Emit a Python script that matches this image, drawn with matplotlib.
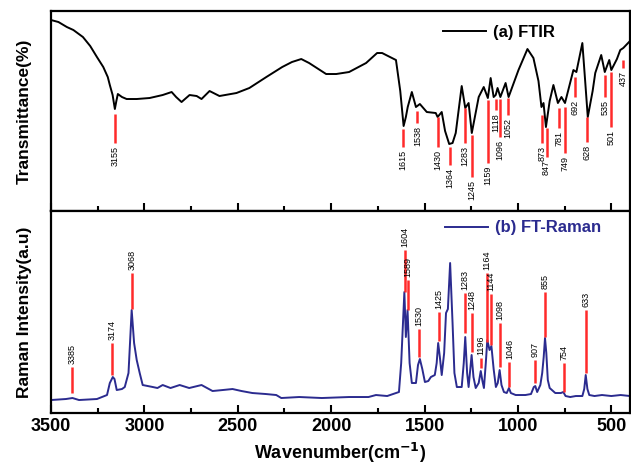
import numpy as np
import matplotlib
matplotlib.use("Agg")
import matplotlib.pyplot as plt
from matplotlib.lines import Line2D
from matplotlib.ticker import MultipleLocator

plt.rcParams['font.family'] = ['Liberation Sans', 'DejaVu Sans']

# FTIR trace (wavenumber, transmittance)
ftir_wn = [3500, 3460, 3415, 3380, 3329, 3290, 3254, 3220, 3196, 3185, 3170, 3158,
           3150, 3142, 3120, 3095, 3041, 2972,
           2902, 2854, 2830, 2801, 2758, 2720, 2694, 2651, 2598, 2507, 2438, 2347,
           2262, 2210, 2160, 2118, 2060, 2027, 1973, 1904, 1813, 1754, 1727, 1706,
           1653, 1630,
           1612, 1600, 1590, 1568, 1546, 1525, 1488, 1440, 1430, 1408, 1390, 1368, 1350,
           1333, 1301, 1282, 1264, 1247, 1210, 1183, 1161, 1146, 1130, 1119, 1109,
           1094, 1066, 1050, 997, 949, 917, 890, 874, 863, 850, 830, 810, 786,
           767, 748, 703, 687, 655, 640, 626, 600, 586, 554, 535, 511, 500, 470,
           452, 436, 400]
ftir_t = [95.5, 94.5, 92, 90.5, 87, 82.5, 77, 72, 67, 63, 58, 51,
          55, 58.5, 57, 56, 56, 56.5,
          58, 59.5, 57, 54.5, 58, 57.5, 56, 60, 57.5, 59, 61.5, 67,
          72, 74.5, 76, 74, 70.5, 68.5, 68.5, 69.5, 74, 79, 79, 78,
          75.5, 60,
          42.5, 47, 52, 59.5, 52, 53.5, 49.5, 49, 47, 49.5, 40, 33.5, 34,
          39, 62.5, 51.5, 54, 39, 57, 62, 56.5, 66.5, 57, 58, 61.5,
          57, 64, 57, 70.5, 81, 76.5, 65, 52, 54, 42, 55, 63, 54,
          57, 54, 70.5, 69.5, 84, 65, 47, 60, 69, 78, 69.5, 75.5, 70.5, 76,
          80.5, 81.5, 85]

# FT-Raman trace (wavenumber, intensity)
raman_wn = [3500, 3420, 3385, 3350, 3254, 3200, 3185, 3169, 3160, 3148, 3120, 3105,
            3085, 3068, 3055, 3041, 3025, 3009, 2955, 2930, 2902, 2860, 2811, 2760,
            2694, 2635, 2580, 2528, 2480, 2422, 2350, 2294, 2267, 2171, 2050, 1904,
            1800, 1760, 1700, 1637, 1625, 1608, 1600, 1591, 1580, 1568, 1546, 1535,
            1525, 1512, 1498, 1480, 1466, 1445, 1435, 1427, 1418, 1408, 1395, 1385,
            1375, 1363, 1350, 1340, 1327, 1301, 1290, 1282, 1272, 1264, 1255, 1248,
            1238, 1226, 1210, 1199, 1190, 1182, 1172, 1164, 1152, 1142, 1130, 1118,
            1108, 1098, 1088, 1075, 1060, 1048, 1038, 1012, 960, 930, 915, 907, 897,
            880, 870, 862, 855, 848, 840, 830, 800, 770, 757, 745, 720, 690, 655,
            645, 637, 628, 618, 590, 550, 500, 450, 400]
raman_i = [6.5, 7, 7.5, 6.5, 7, 9, 15, 18, 17, 11.5, 12, 13,
           20, 51.5, 35, 26.5, 20, 14, 13, 12.5, 14, 12.5, 14, 12.5,
           14, 11, 11.5, 12, 11, 10, 9.5, 9, 7.5, 8, 7.5, 8,
           8, 9, 8.5, 10.5, 25, 60.5, 38, 51.5, 25, 15, 15, 24,
           27, 22, 15.5, 16, 18, 19, 25, 35, 28, 19, 30, 50,
           52, 75, 45, 20, 13, 13, 25, 38, 20, 13, 22, 29,
           18, 12.5, 15, 21, 16, 12.5, 25, 36.5, 31.5, 33.5, 22, 13,
           15, 21.5, 14, 10.5, 10, 12.5, 10, 9, 9, 9.5, 13, 13.5, 10.5,
           14, 20, 28, 37.5, 30, 16.5, 12.5, 10, 10, 10.5, 8.5, 8, 8.5, 8.5,
           12, 19, 12, 9, 8.5, 9, 8.5, 9, 8.5]

# assigned bands: position, marker top, marker bottom
ftir_peaks = [3155, 1615, 1538, 1430, 1364, 1283, 1245, 1159, 1118, 1096, 1052,
              873, 847, 781, 749, 692, 628, 535, 501, 437]
ftir_top = [48.5, 41, 50, 47, 32, 51.5, 38, 55.5, 56, 56, 56.5,
            48, 41.5, 51.5, 52, 67, 47, 68, 69.5, 75.5]
ftir_bot = [34, 32, 44, 32, 23, 34, 17, 24, 50.5, 37, 48,
            34, 27, 41.5, 29, 57, 34.5, 57, 42, 71.5]

raman_peaks = [3385, 3174, 3068, 1604, 1589, 1530, 1425, 1283, 1248, 1196, 1164,
               1144, 1098, 1046, 907, 855, 754, 633]
raman_top = [23, 35, 70, 81.5, 66.5, 42, 50.5, 60, 50, 27.5, 70,
             59.5, 45, 25.5, 26.5, 60.5, 25, 51.5]
raman_bot = [10, 19, 52, 60.5, 51.5, 28, 36, 40, 30.5, 22.5, 35.5,
             34, 23, 13, 15, 38, 10.5, 20]

ftir_color = 'black'
raman_color = '#2b2b8f'
mark_color = '#ff2a2a'

fig = plt.figure(figsize=(6.31, 4.71), dpi=100)
ax1 = fig.add_axes([0.0808, 0.552, 0.9176, 0.4246])
ax2 = fig.add_axes([0.0808, 0.1231, 0.9176, 0.4289], sharex=ax1)

ax1.plot(ftir_wn, ftir_t, color=ftir_color, lw=1.4)
ax2.plot(raman_wn, raman_i, color=raman_color, lw=1.4)

for w, t, b in zip(ftir_peaks, ftir_top, ftir_bot):
    ax1.plot([w, w], [b, t], color=mark_color, lw=1.8, solid_capstyle='butt')
    ax1.annotate(str(w), (w, b), xytext=(0, -2), textcoords='offset points',
                 rotation=90, ha='center', va='top', fontsize=6.5)

for w, t, b in zip(raman_peaks, raman_top, raman_bot):
    ax2.plot([w, w], [b, t], color=mark_color, lw=1.8, solid_capstyle='butt')
    ax2.annotate(str(w), (w, t), xytext=(0, 2), textcoords='offset points',
                 rotation=90, ha='center', va='bottom', fontsize=6.5)

ax1.set_xlim(3500, 400)
ax1.set_ylim(0, 100)
ax2.set_ylim(0, 101)

for ax in (ax1, ax2):
    ax.xaxis.set_major_locator(MultipleLocator(500))
    ax.xaxis.set_minor_locator(MultipleLocator(250))
    ax.tick_params(axis='x', which='major', direction='in', length=6, width=1.5,
                   top=False)
    ax.tick_params(axis='x', which='minor', direction='in', length=3.5, width=1.5,
                   top=False)
    ax.set_yticks([])
    for s in ax.spines.values():
        s.set_linewidth(1.6)

ax1.tick_params(axis='x', labelbottom=False)
for lab in ax2.get_xticklabels():
    lab.set_fontweight('bold')
    lab.set_fontsize(13)

ax1.set_ylabel("Transmittance(%)", fontsize=12.5, fontweight='bold', labelpad=14)
ax2.set_ylabel("Raman Intensity(a.u)", fontsize=12.5, fontweight='bold', labelpad=14)
ax2.set_xlabel("Wavenumber(cm$^{\\mathbf{-1}}$)", fontsize=13, fontweight='bold')

leg1 = ax1.legend([Line2D([], [], color=ftir_color, lw=1.4)], ["(a) FTIR"],
                  loc='center left', bbox_to_anchor=(0.677, 0.895), frameon=False,
                  borderpad=0, borderaxespad=0, handlelength=2.6, handletextpad=0.4,
                  prop={'weight': 'bold', 'size': 12})
leg2 = ax2.legend([Line2D([], [], color=raman_color, lw=1.4)], ["(b) FT-Raman"],
                  loc='center left', bbox_to_anchor=(0.68, 0.916), frameon=False,
                  borderpad=0, borderaxespad=0, handlelength=2.6, handletextpad=0.4,
                  prop={'weight': 'bold', 'size': 12}, labelcolor=raman_color)

fig.savefig("out.png", dpi=100)
